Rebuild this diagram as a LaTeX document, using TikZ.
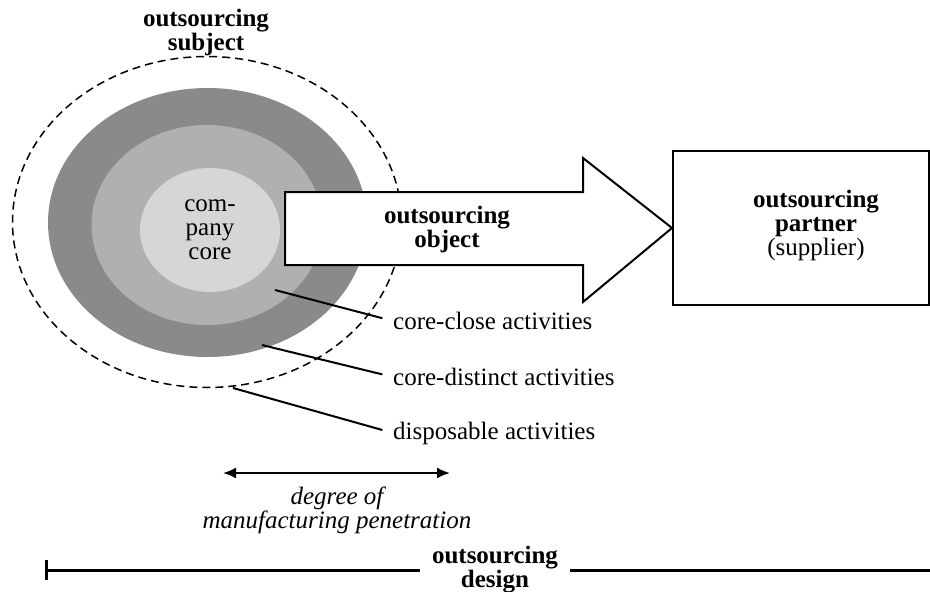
\documentclass[tikz,border=0pt]{standalone}
\usepackage{fontspec}
\setmainfont{Liberation Serif}
\usetikzlibrary{shapes.geometric,arrows.meta}

\definecolor{ringdark}{gray}{0.54}
\definecolor{ringmid}{gray}{0.69}
\definecolor{ringcore}{gray}{0.84}

\begin{document}
\begin{tikzpicture}[x=1pt, y=-1pt, font=\fontsize{25}{24}\selectfont]

  \tikzset{RingStyle/.style = {
  shape = ellipse,
  inner sep = 0pt,
  outer sep = 0pt,
  draw = none}}
  \tikzset{BoldText/.style = {
  font = \fontsize{25}{24}\selectfont\bfseries,
  align = center,
  inner sep = 0pt}}
  \tikzset{LabelText/.style = {
  anchor = west,
  inner sep = 0pt}}
  \tikzset{Leader/.style = {
  line width = 2pt,
  shorten > = 11pt}}

  \useasboundingbox (0,0) rectangle (930,592);

  \begin{scope}
    \node[RingStyle, draw = black, dashed, dash pattern = on 8pt off 5pt,
      line width = 1.5pt, minimum width = 389pt, minimum height = 331pt]
      (subject) at (207,222) {};
    \node[RingStyle, fill = ringdark, minimum width = 319pt,
      minimum height = 269pt] (distinct) at (207.5,222.5) {};
    \node[RingStyle, fill = ringmid, minimum width = 231pt,
      minimum height = 200pt] (close) at (207,225) {};
    \node[RingStyle, fill = ringcore, minimum width = 140pt,
      minimum height = 124pt, align = center] (core) at (210,230)
      {com-\\pany\\core};
    \node[BoldText] (subjecttext) at (206,32) {outsourcing\\subject};
  \end{scope};

  \begin{scope}
    \node[draw, line width = 2pt, minimum width = 256pt,
      minimum height = 154pt, inner sep = 0pt] (partner) at (801,228) {};
    \node[align = center, inner sep = 0pt] (partnertext) at (816,225)
      {\textbf{outsourcing}\\\textbf{partner}\\(supplier)};
    \draw[line width = 2pt, fill = white, line join = miter]
      (285,192) -- (583,192) -- (583,158) -- (partner.west)
      -- (583,302) -- (583,265) -- (285,265) -- cycle;
    \node[BoldText] (objecttext) at (447,229) {outsourcing\\object};
  \end{scope};

  \begin{scope}
    \coordinate (closept) at (275,290);
    \coordinate (distinctpt) at (262,345);
    \coordinate (disposept) at (233,388);
    \node[LabelText] (closelabel) at (393,321) {core-close activities};
    \node[LabelText] (distinctlabel) at (393,377) {core-distinct activities};
    \node[LabelText] (disposelabel) at (393,433) {disposable activities};
    \draw[Leader] (closept) -- (closelabel.west);
    \draw[Leader] (distinctpt) -- (distinctlabel.west);
    \draw[Leader] (disposept) -- (disposelabel.west);
  \end{scope};

  \begin{scope}
    \coordinate (penleft) at (223,473);
    \coordinate (penright) at (450,473);
    \draw[line width = 2pt, {Latex[length=13pt, width=11pt]}-{Latex[length=13pt, width=11pt]}]
      (penleft) -- (penright);
    \node[align = center, inner sep = 0pt, font = \fontsize{25}{24}\selectfont\itshape]
      (pentext) at (337,510) {degree of\\manufacturing penetration};
  \end{scope};

  \begin{scope}
    \coordinate (designstart) at (45,570);
    \coordinate (designend) at (930,570);
    \node[BoldText, inner xsep = 12pt] (designtext) at (495,570)
      {outsourcing\\design};
    \draw[line width = 3pt, {Bar[width=20pt]}-] (designstart) -- (designtext.west);
    \draw[line width = 3pt] (designtext.east) -- (designend);
  \end{scope};
\end{tikzpicture}
\end{document}
